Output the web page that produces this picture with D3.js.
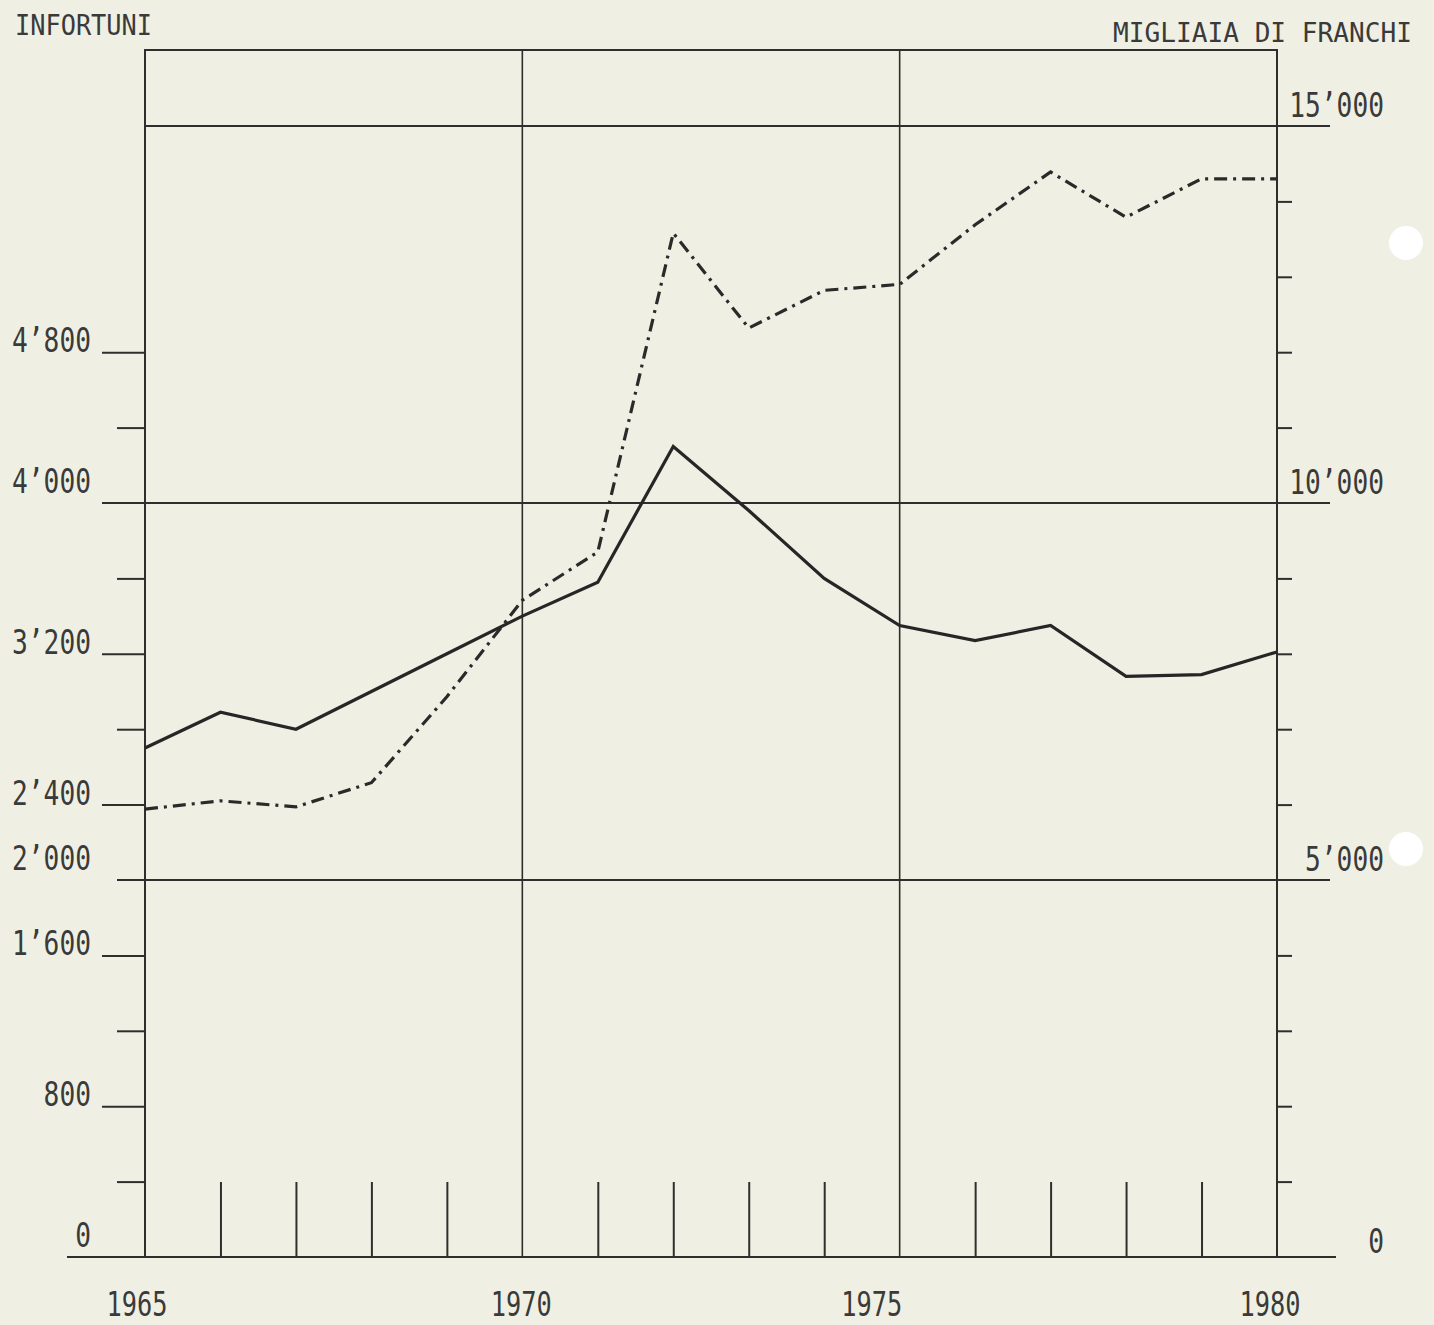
<!DOCTYPE html>
<html>
<head>
<meta charset="utf-8">
<script src="https://cdn.jsdelivr.net/npm/d3@7"></script>
<style>
  html, body { margin: 0; padding: 0; background: #eff0e3; }
  svg { display: block; }
  text { font-family: "DejaVu Sans Mono", "Liberation Mono", monospace; fill: #3a3a3a; }
</style>
</head>
<body>
<svg id="chart" width="1434" height="1325"></svg>
<script>
// ---- data ----
const years = [1965, 1966, 1967, 1968, 1969, 1970, 1971, 1972, 1973, 1974, 1975, 1976, 1977, 1978, 1979, 1980];
// INFORTUNI (left axis) - solid line
const infortuni = [2700, 2890, 2800, 3000, 3200, 3400, 3580, 4300, 3960, 3600, 3350, 3270, 3350, 3080, 3090, 3210];
// MIGLIAIA DI FRANCHI (right axis) - dash-dot line
const franchi = [5940, 6050, 5970, 6290, 7430, 8710, 9350, 13580, 12320, 12820, 12900, 13690, 14390, 13790, 14300, 14300];

const yearLabels = [1965, 1970, 1975, 1980];
const leftTickValues = [400, 800, 1200, 1600, 2000, 2400, 2800, 3200, 3600, 4000, 4400, 4800];
const leftLabelValues = [0, 800, 1600, 2000, 2400, 3200, 4000, 4800];
const rightTickValues = [1000, 2000, 3000, 4000, 5000, 6000, 7000, 8000, 9000, 10000, 11000, 12000, 13000, 14000];
const rightLabelValues = [0, 5000, 10000, 15000];
const leftTitle = "INFORTUNI";
const rightTitle = "MIGLIAIA DI FRANCHI";

// ---- layout ----
const svg = d3.select("#chart");
const ink = "#2e2e2e";
const plotLeft = 145, plotRight = 1277, plotTop = 50, plotBottom = 1257;

const x = d3.scaleLinear().domain([1965, 1980]).range([plotLeft, plotRight]);
const yR = d3.scaleLinear().domain([0, 15000]).range([plotBottom, 126]);
const yL = d3.scaleLinear().domain([0, 6000]).range([plotBottom, 126]);

const fmt = v => {
  const s = String(v);
  return s.length > 3 ? s.slice(0, s.length - 3) + "\u2019" + s.slice(-3) : s;
};
const charW = 15.8;

// punch holes (scan artefacts)
svg.append("circle").attr("cx", 1406).attr("cy", 243).attr("r", 17).attr("fill", "#ffffff");
svg.append("circle").attr("cx", 1406).attr("cy", 849).attr("r", 17).attr("fill", "#ffffff");

const g = svg.append("g").attr("stroke", ink).attr("fill", "none");

// frame
g.append("path")
  .attr("d", `M${plotLeft},${plotBottom}V${plotTop}H${plotRight}V${plotBottom}`)
  .attr("stroke-width", 2);

// baseline
g.append("line").attr("x1", 67).attr("x2", 1336)
  .attr("y1", plotBottom).attr("y2", plotBottom).attr("stroke-width", 2.2);

// horizontal gridlines (right-axis multiples of 5000)
const gridVals = [5000, 10000, 15000];
g.selectAll("line.hgrid").data(gridVals).enter().append("line")
  .attr("class", "hgrid")
  .attr("x1", d => d === 15000 ? plotLeft : (d === 10000 ? 102 : 117))
  .attr("x2", 1330)
  .attr("y1", d => yR(d)).attr("y2", d => yR(d))
  .attr("stroke-width", 1.8);

// vertical gridlines
g.selectAll("line.vgrid").data([1970, 1975]).enter().append("line")
  .attr("class", "vgrid")
  .attr("x1", d => x(d)).attr("x2", d => x(d))
  .attr("y1", plotTop).attr("y2", plotBottom)
  .attr("stroke-width", 1.6);

// left axis ticks
const leftAxis = d3.axisLeft(yL)
  .tickValues(leftTickValues.filter(v => v !== 2000 && v !== 4000))
  .tickSizeOuter(0)
  .tickFormat("");
const la = svg.append("g").attr("transform", `translate(${plotLeft},0)`).call(leftAxis);
la.select(".domain").remove();
la.selectAll(".tick line")
  .attr("x2", d => (d % 800 === 0) ? -(plotLeft - 102) : -(plotLeft - 117))
  .attr("stroke", ink).attr("stroke-width", 2);

// right axis ticks
const rightAxis = d3.axisRight(yR)
  .tickValues(rightTickValues.filter(v => v % 5000 !== 0))
  .tickSizeOuter(0)
  .tickSize(15)
  .tickFormat("");
const ra = svg.append("g").attr("transform", `translate(${plotRight},0)`).call(rightAxis);
ra.select(".domain").remove();
ra.selectAll(".tick line").attr("stroke", ink).attr("stroke-width", 2);

// bottom year ticks
const bottomAxis = d3.axisTop(x)
  .tickValues(years.filter(v => v % 5 !== 0))
  .tickSizeOuter(0)
  .tickSize(75)
  .tickFormat("");
const ba = svg.append("g").attr("transform", `translate(0,${plotBottom})`).call(bottomAxis);
ba.select(".domain").remove();
ba.selectAll(".tick line").attr("stroke", ink).attr("stroke-width", 2);

// ---- labels ----
function label(txt, xx, yy, anchor, size) {
  const t = svg.append("text")
    .attr("x", xx).attr("y", yy)
    .attr("text-anchor", anchor)
    .attr("font-size", size)
    .text(txt);
  t.attr("textLength", txt.length * charW).attr("lengthAdjust", "spacingAndGlyphs");
  return t;
}

// left labels
const onGrid = new Set([0, 2000, 4000]);
leftLabelValues.forEach(v => {
  label(fmt(v), 91, yL(v) - (onGrid.has(v) ? 10 : 0), "end", 33);
});

// right labels
rightLabelValues.forEach(v => {
  label(fmt(v), 1384, yR(v) - (v === 0 ? 4 : 9), "end", 33);
});

// year labels
const yearNudge = { 1965: -8, 1970: -1, 1975: -28, 1980: -7 };
yearLabels.forEach(v => {
  label(String(v), x(v) + (yearNudge[v] || 0), 1316, "middle", 34)
    .attr("textLength", 61);
});

// titles
label(leftTitle, 15, 35, "start", 29).attr("textLength", 137);
label(rightTitle, 1412, 42, "end", 27).attr("textLength", 299);

// ---- series ----
const lineL = d3.line().x((d, i) => x(years[i])).y(d => yL(d));
const lineR = d3.line().x((d, i) => x(years[i])).y(d => yR(d));

svg.append("path").datum(infortuni)
  .attr("d", lineL)
  .attr("fill", "none").attr("stroke", "#262626")
  .attr("stroke-width", 3.2).attr("stroke-linejoin", "miter");

svg.append("path").datum(franchi)
  .attr("d", lineR)
  .attr("fill", "none").attr("stroke", "#2a2a2a")
  .attr("stroke-width", 3.2)
  .attr("stroke-dasharray", "13,6,3,6");
</script>
</body>
</html>
